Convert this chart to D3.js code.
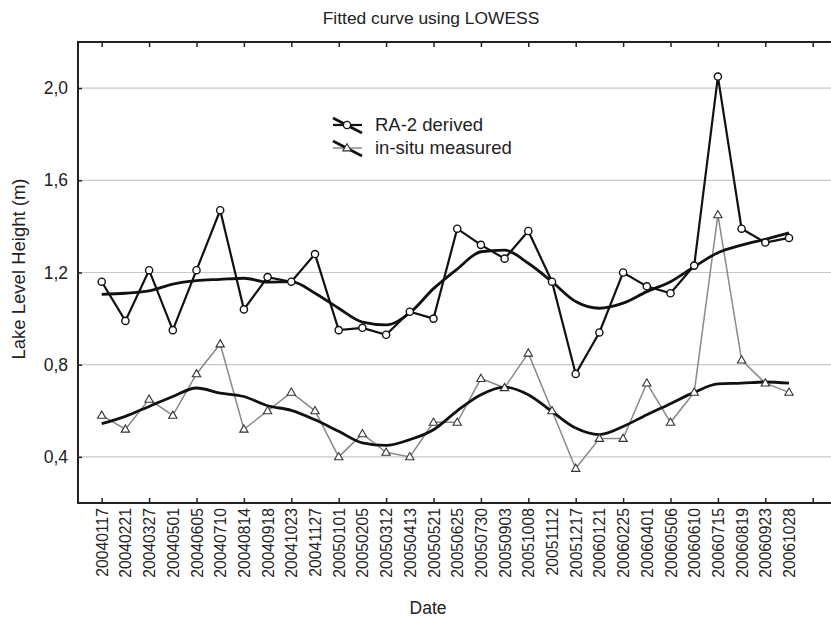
<!DOCTYPE html>
<html>
<head>
<meta charset="utf-8">
<script src="https://cdn.jsdelivr.net/npm/d3@7"></script>
<style>
  body { margin: 0; background: #fff; }
  svg { display: block; font-family: "Liberation Sans", Arial, sans-serif; }
</style>
</head>
<body>
<div id="chart"></div>
<script>
// sampling dates (x categories)
const dates = [
  "20040117", "20040221", "20040327", "20040501", "20040605", "20040710",
  "20040814", "20040918", "20041023", "20041127", "20050101", "20050205",
  "20050312", "20050413", "20050521", "20050625", "20050730", "20050903",
  "20051008", "20051112", "20051217", "20060121", "20060225", "20060401",
  "20060506", "20060610", "20060715", "20060819", "20060923", "20061028"
];

// RA-2 derived lake level (m)
const ra2 = [
  1.16, 0.99, 1.21, 0.95, 1.21, 1.47, 1.04, 1.18, 1.16, 1.28,
  0.95, 0.96, 0.93, 1.03, 1.00, 1.39, 1.32, 1.26, 1.38, 1.16,
  0.76, 0.94, 1.20, 1.14, 1.11, 1.23, 2.05, 1.39, 1.33, 1.35
];

// LOWESS fit of RA-2 series
const ra2Fit = [
  1.105, 1.11, 1.12, 1.15, 1.165, 1.17, 1.175, 1.158, 1.16, 1.11,
  1.045, 0.985, 0.973, 1.025, 1.13, 1.215, 1.29, 1.297, 1.24, 1.16,
  1.074, 1.045, 1.067, 1.117, 1.16, 1.225, 1.286, 1.319, 1.344, 1.372
];

// in-situ measured lake level (m)
const insitu = [
  0.58, 0.52, 0.65, 0.58, 0.76, 0.89, 0.52, 0.60, 0.68, 0.60,
  0.40, 0.50, 0.42, 0.40, 0.55, 0.55, 0.74, 0.70, 0.85, 0.60,
  0.35, 0.48, 0.48, 0.72, 0.55, 0.68, 1.45, 0.82, 0.72, 0.68
];

// LOWESS fit of in-situ series
const insituFit = [
  0.544, 0.576, 0.619, 0.662, 0.699, 0.677, 0.662, 0.622, 0.602, 0.561,
  0.511, 0.461, 0.45, 0.475, 0.518, 0.60, 0.67, 0.703, 0.67, 0.597,
  0.525, 0.497, 0.532, 0.583, 0.631, 0.68, 0.717, 0.72, 0.725, 0.72
];

const yTicks = [0.4, 0.8, 1.2, 1.6, 2.0];

const W = 831, H = 623;
const svg = d3.select("#chart").append("svg")
  .attr("width", W).attr("height", H);

const x = d3.scaleLinear().domain([-1, 32]).range([78, 78 + 33 * 23.7]);
const y = d3.scaleLinear().domain([0.2, 2.2]).range([503, 42]);
const fmt = v => d3.format(".1f")(v).replace(".", ",");

// gridlines
svg.append("g")
  .selectAll("line")
  .data(yTicks)
  .join("line")
  .attr("x1", x(-1)).attr("x2", x(32))
  .attr("y1", d => y(d)).attr("y2", d => y(d))
  .attr("stroke", "#c8c8c8").attr("stroke-width", 1.2);

// y axis labels + inward ticks
const yAxis = svg.append("g")
  .attr("transform", `translate(${x(-1)},0)`)
  .call(d3.axisLeft(y).tickValues(yTicks).tickFormat(fmt).tickSizeInner(-4).tickSizeOuter(0).tickPadding(10));
yAxis.select(".domain").remove();
yAxis.selectAll("line").attr("stroke", "#222").attr("stroke-width", 1.5);
yAxis.selectAll("text").attr("font-size", 17.5).attr("fill", "#222");

// bottom date labels
const xLab = svg.append("g")
  .attr("transform", `translate(0,${y(0.2)})`)
  .call(d3.axisBottom(x).tickValues(d3.range(dates.length)).tickFormat(i => dates[i]).tickSize(0));
xLab.select(".domain").remove();
xLab.selectAll("text")
  .attr("font-size", 15.7).attr("fill", "#222")
  .attr("transform", "rotate(-90)")
  .attr("text-anchor", "end")
  .attr("x", -5).attr("y", 0).attr("dy", "0.35em");

// inward tick marks top and bottom at every other date
const evenIdx = d3.range(0, 31, 2);
[y(0.2), y(2.2)].forEach((ty, k) => {
  const ax = k === 0 ? d3.axisBottom : d3.axisTop;
  const g = svg.append("g")
    .attr("transform", `translate(0,${ty})`)
    .call(ax(x).tickValues(evenIdx).tickFormat("").tickSizeInner(-5).tickSizeOuter(0));
  g.select(".domain").remove();
  g.selectAll("line").attr("stroke", "#222").attr("stroke-width", 1.5);
});

// frame
svg.append("rect")
  .attr("x", x(-1)).attr("y", y(2.2))
  .attr("width", x(32) - x(-1)).attr("height", y(0.2) - y(2.2))
  .attr("fill", "none").attr("stroke", "#222").attr("stroke-width", 2);

const line = d3.line().x((d, i) => x(i)).y(d => y(d));
const smooth = d3.line().x((d, i) => x(i)).y(d => y(d)).curve(d3.curveMonotoneX);

// in-situ series
svg.append("path").datum(insitu).attr("d", line)
  .attr("fill", "none").attr("stroke", "#8a8a8a").attr("stroke-width", 1.5);
svg.append("path").datum(insituFit).attr("d", smooth)
  .attr("fill", "none").attr("stroke", "#111").attr("stroke-width", 2.8);
const tri = d3.symbol().type(d3.symbolTriangle).size(30);
svg.append("g").selectAll("path")
  .data(insitu).join("path")
  .attr("d", tri)
  .attr("transform", (d, i) => `translate(${x(i)},${y(d) + 0.5})`)
  .attr("fill", "#fff").attr("stroke", "#333").attr("stroke-width", 1.1);

// RA-2 series
svg.append("path").datum(ra2).attr("d", line)
  .attr("fill", "none").attr("stroke", "#111").attr("stroke-width", 2.2);
svg.append("path").datum(ra2Fit).attr("d", smooth)
  .attr("fill", "none").attr("stroke", "#111").attr("stroke-width", 2.8);
svg.append("g").selectAll("circle")
  .data(ra2).join("circle")
  .attr("cx", (d, i) => x(i)).attr("cy", d => y(d))
  .attr("r", 3.6)
  .attr("fill", "#fff").attr("stroke", "#111").attr("stroke-width", 1.4);

// legend
const legend = [
  { label: "RA-2 derived", color: "#111", width: 2.2, marker: "circle" },
  { label: "in-situ measured", color: "#8a8a8a", width: 1.5, marker: "triangle" }
];
const lg = svg.append("g").attr("transform", "translate(333,125)");
legend.forEach((d, k) => {
  const row = lg.append("g").attr("transform", `translate(0,${k * 23})`);
  row.append("line").attr("x1", 0).attr("x2", 29).attr("y1", 0).attr("y2", 0)
    .attr("stroke", d.color).attr("stroke-width", d.width);
  row.append("line").attr("x1", 0).attr("x2", 29).attr("y1", -7).attr("y2", 8)
    .attr("stroke", "#111").attr("stroke-width", 2.6);
  if (d.marker === "circle") {
    row.append("circle").attr("cx", 14).attr("cy", 0).attr("r", 3.6)
      .attr("fill", "#fff").attr("stroke", "#111").attr("stroke-width", 1.4);
  } else {
    row.append("path").attr("d", tri).attr("transform", "translate(14,0.5)")
      .attr("fill", "#fff").attr("stroke", "#333").attr("stroke-width", 1.1);
  }
  row.append("text").attr("x", 42).attr("y", 0).attr("dy", "0.35em")
    .attr("font-size", 18.5).attr("fill", "#222").text(d.label);
});

// titles
svg.append("text").attr("x", 431).attr("y", 24).attr("text-anchor", "middle")
  .attr("font-size", 17.4).attr("fill", "#222").text("Fitted curve using LOWESS");
svg.append("text").attr("x", 428).attr("y", 614).attr("text-anchor", "middle")
  .attr("font-size", 17.5).attr("fill", "#222").text("Date");
svg.append("text")
  .attr("transform", "translate(25,269) rotate(-90)")
  .attr("text-anchor", "middle")
  .attr("font-size", 18.5).attr("fill", "#222").text("Lake Level Height (m)");
</script>
</body>
</html>
